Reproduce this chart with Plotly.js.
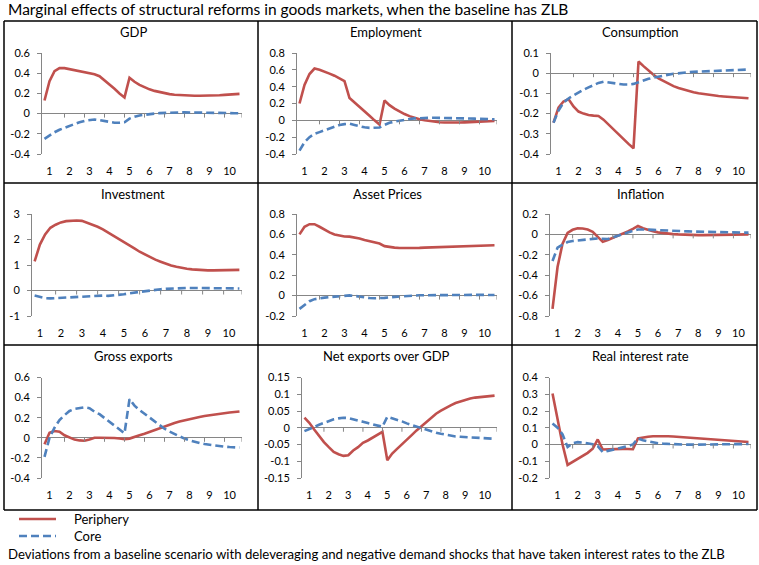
<!DOCTYPE html>
<html><head><meta charset="utf-8">
<script src="https://cdn.plot.ly/plotly-3.0.1.min.js"></script>
<style>body{margin:0;background:#fff}#chart{width:759px;height:565px}</style>
</head><body><div id="chart"></div>
<script>
// ---- data ----
const quarters = [1,2,3,4,5,6,7,8,9,10,11,12,13,14,15,16,17,18,19,20,21,22,23,24,25,26,27,28,29,30,31,32,33,34,35,36,37,38,39,40];
const yearLabelPositions = [2,6,10,14,18,22,26,30,34,38];
const yearLabels = ['1','2','3','4','5','6','7','8','9','10'];
const yearTickPositions = [5,9,13,17,21,25,29,33,37,40.5];

const panelTitles = ['GDP','Employment','Consumption','Investment','Asset Prices','Inflation','Gross exports','Net exports over GDP','Real interest rate'];
const seriesNames = ['Periphery','Core'];

const gdpPeriphery = [0.13,0.32,0.42,0.45,0.45,0.44,0.43,0.42,0.41,0.40,0.39,0.37,0.33,0.29,0.245,0.2,0.16,0.355,0.315,0.285,0.26,0.24,0.225,0.212,0.2,0.193,0.187,0.183,0.18,0.178,0.177,0.177,0.177,0.178,0.18,0.182,0.185,0.188,0.19,0.195];
const gdpCore = [-0.25,-0.215,-0.185,-0.16,-0.14,-0.12,-0.1,-0.085,-0.072,-0.062,-0.058,-0.065,-0.075,-0.085,-0.09,-0.09,-0.085,-0.05,-0.03,-0.018,-0.01,-0.004,0.0,0.005,0.008,0.01,0.011,0.012,0.012,0.012,0.011,0.01,0.01,0.009,0.008,0.007,0.006,0.005,0.004,0.003];

const empPeriphery = [0.2,0.42,0.55,0.615,0.6,0.58,0.555,0.53,0.5,0.465,0.265,0.215,0.16,0.11,0.055,0.0,-0.05,0.235,0.18,0.14,0.105,0.075,0.05,0.03,0.012,0.0,-0.01,-0.017,-0.022,-0.025,-0.027,-0.027,-0.026,-0.024,-0.022,-0.02,-0.017,-0.014,-0.011,-0.008];
const empCore = [-0.36,-0.26,-0.2,-0.16,-0.14,-0.12,-0.1,-0.075,-0.055,-0.045,-0.04,-0.055,-0.07,-0.083,-0.09,-0.09,-0.085,-0.055,-0.03,-0.015,-0.002,0.008,0.016,0.023,0.027,0.029,0.03,0.03,0.03,0.029,0.028,0.027,0.026,0.024,0.022,0.02,0.018,0.016,0.014,0.012];

const consPeriphery = [-0.245,-0.17,-0.14,-0.128,-0.165,-0.19,-0.2,-0.207,-0.21,-0.212,-0.23,-0.255,-0.28,-0.303,-0.326,-0.35,-0.372,0.058,0.035,0.012,-0.008,-0.026,-0.04,-0.053,-0.064,-0.073,-0.081,-0.088,-0.094,-0.099,-0.103,-0.107,-0.11,-0.113,-0.115,-0.117,-0.119,-0.121,-0.122,-0.124];
const consCore = [-0.245,-0.185,-0.145,-0.125,-0.11,-0.095,-0.082,-0.07,-0.058,-0.048,-0.042,-0.045,-0.05,-0.054,-0.056,-0.056,-0.053,-0.045,-0.035,-0.028,-0.022,-0.016,-0.011,-0.007,-0.003,0.0,0.003,0.005,0.007,0.008,0.009,0.01,0.011,0.012,0.013,0.014,0.015,0.016,0.017,0.018];

const invPeriphery = [1.14,1.8,2.2,2.46,2.58,2.67,2.72,2.74,2.745,2.73,2.66,2.6,2.5,2.4,2.28,2.16,2.03,1.9,1.77,1.65,1.52,1.41,1.3,1.21,1.13,1.05,0.98,0.93,0.88,0.85,0.83,0.81,0.8,0.79,0.79,0.79,0.79,0.8,0.8,0.81];
const invCore = [-0.2,-0.26,-0.3,-0.31,-0.3,-0.29,-0.27,-0.25,-0.23,-0.22,-0.21,-0.21,-0.2,-0.2,-0.21,-0.2,-0.18,-0.15,-0.11,-0.08,-0.05,-0.02,0.01,0.03,0.05,0.065,0.08,0.09,0.095,0.1,0.1,0.1,0.1,0.1,0.1,0.095,0.09,0.09,0.085,0.08];

const assetPeriphery = [0.6,0.675,0.7,0.7,0.675,0.645,0.62,0.6,0.588,0.58,0.578,0.572,0.56,0.545,0.532,0.52,0.51,0.485,0.475,0.47,0.467,0.466,0.466,0.467,0.468,0.47,0.472,0.474,0.477,0.479,0.481,0.483,0.485,0.487,0.489,0.49,0.491,0.492,0.493,0.494];
const assetCore = [-0.13,-0.09,-0.055,-0.035,-0.025,-0.02,-0.015,-0.012,-0.007,-0.002,0.002,-0.003,-0.012,-0.02,-0.024,-0.026,-0.026,-0.022,-0.017,-0.012,-0.008,-0.004,-0.001,0.001,0.003,0.004,0.005,0.006,0.007,0.007,0.007,0.007,0.007,0.007,0.007,0.007,0.007,0.007,0.007,0.006];

const inflPeriphery = [-0.73,-0.32,-0.09,0.015,0.045,0.06,0.058,0.048,0.025,-0.02,-0.073,-0.055,-0.035,-0.013,0.008,0.03,0.055,0.083,0.06,0.043,0.03,0.02,0.013,0.007,0.003,0.0,-0.003,-0.005,-0.006,-0.007,-0.007,-0.007,-0.006,-0.005,-0.004,-0.003,-0.002,-0.001,0.0,0.0];
const inflCore = [-0.26,-0.13,-0.1,-0.075,-0.065,-0.058,-0.053,-0.048,-0.044,-0.04,-0.045,-0.045,-0.03,-0.012,0.005,0.02,0.035,0.048,0.05,0.047,0.044,0.041,0.039,0.037,0.035,0.033,0.031,0.03,0.028,0.027,0.026,0.025,0.024,0.023,0.022,0.021,0.02,0.019,0.018,0.017];

const grossPeriphery = [-0.065,0.05,0.067,0.06,0.025,0.0,-0.018,-0.026,-0.03,-0.017,0.0,0.001,0.002,0.001,-0.002,-0.007,-0.013,-0.008,0.005,0.025,0.04,0.058,0.082,0.1,0.117,0.133,0.148,0.162,0.175,0.187,0.198,0.208,0.217,0.225,0.232,0.239,0.245,0.251,0.256,0.262];
const grossCore = [-0.19,0.0,0.1,0.177,0.225,0.267,0.287,0.298,0.303,0.295,0.26,0.235,0.197,0.165,0.13,0.09,0.045,0.385,0.32,0.277,0.24,0.2,0.16,0.122,0.09,0.062,0.036,0.012,-0.008,-0.025,-0.04,-0.052,-0.062,-0.07,-0.077,-0.083,-0.088,-0.092,-0.095,-0.097];

const netPeriphery = [0.03,0.015,-0.005,-0.025,-0.043,-0.058,-0.072,-0.079,-0.084,-0.082,-0.068,-0.058,-0.045,-0.038,-0.03,-0.021,-0.012,-0.097,-0.077,-0.063,-0.05,-0.036,-0.022,-0.008,0.004,0.017,0.03,0.042,0.051,0.06,0.067,0.074,0.079,0.083,0.087,0.09,0.092,0.094,0.095,0.096];
const netCore = [-0.01,-0.005,0.002,0.009,0.015,0.02,0.025,0.028,0.03,0.029,0.026,0.022,0.018,0.014,0.011,0.007,0.003,0.033,0.029,0.024,0.019,0.013,0.008,0.003,-0.002,-0.006,-0.011,-0.015,-0.018,-0.021,-0.024,-0.026,-0.027,-0.028,-0.029,-0.03,-0.031,-0.032,-0.032,-0.033];

const realPeriphery = [0.305,0.14,0.0,-0.122,-0.105,-0.088,-0.07,-0.05,-0.025,0.03,-0.03,-0.028,-0.026,-0.026,-0.026,-0.027,-0.028,0.036,0.042,0.046,0.049,0.05,0.05,0.049,0.048,0.046,0.044,0.042,0.04,0.038,0.035,0.033,0.03,0.028,0.026,0.023,0.021,0.019,0.017,0.015];
const realCore = [0.125,0.1,0.06,-0.015,0.008,0.014,0.012,0.008,0.002,-0.01,-0.045,-0.038,-0.032,-0.025,-0.018,-0.01,0.0,0.036,0.025,0.018,0.012,0.008,0.005,0.003,0.001,0.0,-0.001,-0.001,-0.001,-0.001,0.0,0.0,0.0,0.001,0.001,0.001,0.002,0.002,0.002,0.003];

// y tick values and labels per panel
const gdpTicks = [-0.4,-0.2,0,0.2,0.4,0.6];           const gdpTickText = ['-0.4','-0.2','0','0.2','0.4','0.6'];
const empTicks = [-0.4,-0.2,0,0.2,0.4,0.6,0.8];       const empTickText = ['-0.4','-0.2','0','0.2','0.4','0.6','0.8'];
const consTicks = [-0.4,-0.3,-0.2,-0.1,0,0.1];        const consTickText = ['-0.4','-0.3','-0.2','-0.1','0','0.1'];
const invTicks = [-1,0,1,2,3];                        const invTickText = ['-1','0','1','2','3'];
const assetTicks = [-0.2,0,0.2,0.4,0.6,0.8];          const assetTickText = ['-0.2','0','0.2','0.4','0.6','0.8'];
const inflTicks = [-0.8,-0.6,-0.4,-0.2,0,0.2];        const inflTickText = ['-0.8','-0.6','-0.4','-0.2','0','0.2'];
const grossTicks = [-0.4,-0.2,0,0.2,0.4,0.6];         const grossTickText = ['-0.4','-0.2','0','0.2','0.4','0.6'];
const netTicks = [-0.15,-0.1,-0.05,0,0.05,0.1,0.15];  const netTickText = ['-0.15','-0.1','-0.05','0','0.05','0.1','0.15'];
const realTicks = [-0.2,-0.1,0,0.1,0.2,0.3,0.4];      const realTickText = ['-0.2','-0.1','0','0.1','0.2','0.3','0.4'];

const chartTitle = 'Marginal effects of structural reforms in goods markets, when the baseline has ZLB';
const footnote = 'Deviations from a baseline scenario with deleveraging and negative demand shocks that have taken interest rates to the ZLB';

// ---- panel assembly ----
const panelData = [
  [gdpPeriphery, gdpCore, gdpTicks, gdpTickText],
  [empPeriphery, empCore, empTicks, empTickText],
  [consPeriphery, consCore, consTicks, consTickText],
  [invPeriphery, invCore, invTicks, invTickText],
  [assetPeriphery, assetCore, assetTicks, assetTickText],
  [inflPeriphery, inflCore, inflTicks, inflTickText],
  [grossPeriphery, grossCore, grossTicks, grossTickText],
  [netPeriphery, netCore, netTicks, netTickText],
  [realPeriphery, realCore, realTicks, realTickText]
];

// geometry in pixels: plot-area left/right, top/bottom; title centre
const W = 759, H = 565;
const boxes = [
  {l:42, r:242, t:53, b:154, tx:133, ty:32},
  {l:297, r:497, t:53, b:154, tx:386, ty:32},
  {l:551, r:751, t:53, b:154, tx:640, ty:32},
  {l:32, r:242, t:214, b:316, tx:133, ty:194},
  {l:297, r:497, t:214, b:316, tx:387, ty:194},
  {l:550, r:751, t:214, b:316, tx:640, ty:194},
  {l:42, r:242, t:377.5, b:478, tx:133, ty:356},
  {l:302, r:497, t:377.5, b:478, tx:386, ty:356},
  {l:550, r:751, t:377.5, b:478, tx:640, ty:356}
];
const px = v => v / W, py = v => 1 - v / H;

const FONT = 'Lato, "Open Sans", sans-serif';
const RED = '#C0504D', BLUE = '#4F81BD', AXIS = '#868686';

const traces = [];
const layout = {
  width: W, height: H,
  margin: {l:0, r:0, t:0, b:0},
  paper_bgcolor: '#fff', plot_bgcolor: 'rgba(0,0,0,0)',
  showlegend: false,
  font: {family: FONT, color: '#000', size: 11},
  title: {text: chartTitle, x: px(8), xanchor: 'left', y: py(10), yanchor: 'middle', font: {family: FONT, size: 15.5, color: '#000'}},
  annotations: [],
  shapes: []
};

panelData.forEach((pd, i) => {
  const n = i === 0 ? '' : String(i + 1);
  const b = boxes[i];
  const yvals = pd[2];
  traces.push({x: quarters, y: pd[0], xaxis: 'x' + n, yaxis: 'y' + n, type: 'scatter', mode: 'lines',
    name: seriesNames[0], line: {color: RED, width: 2.6}, hoverinfo: 'skip'});
  traces.push({x: quarters, y: pd[1], xaxis: 'x' + n, yaxis: 'y' + n, type: 'scatter', mode: 'lines',
    name: seriesNames[1], line: {color: BLUE, width: 2.6, dash: '8px,4px'}, hoverinfo: 'skip'});
  layout['xaxis' + n] = {
    domain: [px(b.l), px(b.r)], anchor: 'y' + n, range: [0.5, 40.5],
    showgrid: false, zeroline: false, showline: false, ticks: '',
    tickmode: 'array', tickvals: yearLabelPositions, ticktext: yearLabels,
    tickfont: {family: FONT, size: 11, color: '#000'}, ticklabelstandoff: 9, fixedrange: true
  };
  layout['yaxis' + n] = {
    domain: [py(b.b), py(b.t)], anchor: 'x' + n,
    range: [yvals[0], yvals[yvals.length - 1]],
    showgrid: false, zeroline: true, zerolinecolor: AXIS, zerolinewidth: 1,
    showline: true, linecolor: AXIS, linewidth: 1,
    ticks: 'outside', ticklen: 4, tickcolor: AXIS, tickwidth: 1,
    tickmode: 'array', tickvals: yvals, ticktext: pd[3],
    tickfont: {family: FONT, size: 11, color: '#000'}, ticklabelstandoff: 5, fixedrange: true
  };
  layout.annotations.push({text: panelTitles[i], xref: 'paper', yref: 'paper', x: px(b.tx), y: py(b.ty),
    xanchor: 'center', yanchor: 'middle', showarrow: false, font: {family: FONT, size: 13, color: '#000'}});
  yearTickPositions.forEach(p => {
    layout.shapes.push({type: 'line', xref: 'x' + n, yref: 'y' + n, x0: p, x1: p,
      ysizemode: 'pixel', yanchor: 0, y0: 0, y1: -4, line: {color: AXIS, width: 1}});
  });
});

// panel frames
const frameX = [4, 258, 512, 757], frameY = [21, 183, 345, 510];
frameX.forEach(x => layout.shapes.push({type: 'line', xref: 'paper', yref: 'paper', x0: px(x), x1: px(x), y0: py(frameY[0]), y1: py(frameY[3]), line: {color: '#000', width: 1.5}}));
frameY.forEach(y => layout.shapes.push({type: 'line', xref: 'paper', yref: 'paper', x0: px(frameX[0]), x1: px(frameX[3]), y0: py(y), y1: py(y), line: {color: '#000', width: 1.5}}));

// legend (manual)
const legendRows = [{y: 519, color: RED, dash: 'solid'}, {y: 536, color: BLUE, dash: '8px,4px'}];
legendRows.forEach((r, k) => {
  layout.shapes.push({type: 'line', xref: 'paper', yref: 'paper', x0: px(19), x1: px(56), y0: py(r.y), y1: py(r.y), line: {color: r.color, width: 2.6, dash: r.dash}});
  layout.annotations.push({text: seriesNames[k], xref: 'paper', yref: 'paper', x: px(72), y: py(r.y), xanchor: 'left', yanchor: 'middle', showarrow: false, font: {family: FONT, size: 13, color: '#000'}});
});
layout.annotations.push({text: footnote, xref: 'paper', yref: 'paper', x: px(6), y: py(554), xanchor: 'left', yanchor: 'middle', showarrow: false, font: {family: FONT, size: 13.2, color: '#000'}});

Plotly.newPlot('chart', traces, layout, {displayModeBar: false, staticPlot: true});
</script></body></html>
